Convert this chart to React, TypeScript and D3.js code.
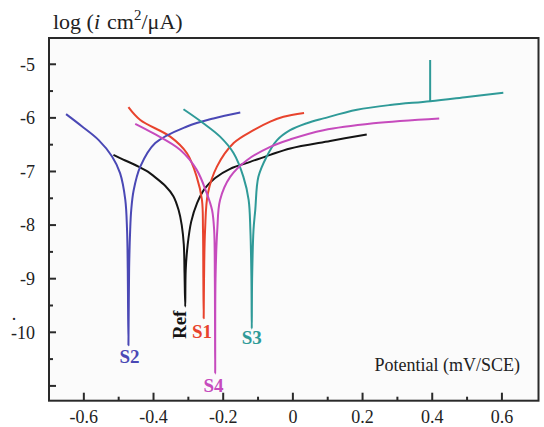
import * as d3 from "d3";

// Tafel curves: [potential (V/SCE), log i]
const refCurve: [number, number][] = [
  [-0.515, -6.69], [-0.496, -6.75], [-0.443, -6.91], [-0.42, -6.99], [-0.395, -7.11],
  [-0.366, -7.27], [-0.343, -7.46], [-0.328, -7.72], [-0.319, -8.0], [-0.313, -8.37],
  [-0.311, -8.9], [-0.309, -9.52], [-0.3076, -8.84], [-0.302, -8.37], [-0.292, -7.94],
  [-0.275, -7.59], [-0.252, -7.31], [-0.223, -7.12], [-0.18, -6.95], [-0.1225, -6.82],
  [-0.065, -6.69], [-0.0077, -6.57], [0.107, -6.43], [0.212, -6.31],
];
const s1Curve: [number, number][] = [
  [-0.472, -5.8], [-0.438, -6.04], [-0.352, -6.35], [-0.304, -6.66], [-0.276, -7.1],
  [-0.261, -7.53], [-0.258, -8.09], [-0.257, -9.0], [-0.256, -9.74], [-0.255, -9.0],
  [-0.252, -8.09], [-0.244, -7.41], [-0.218, -6.91], [-0.17, -6.47], [-0.113, -6.23],
  [-0.065, -6.07], [-0.027, -5.98], [0.032, -5.91],
];
const s2Curve: [number, number][] = [
  [-0.651, -5.93], [-0.605, -6.16], [-0.558, -6.41], [-0.519, -6.72], [-0.496, -7.03],
  [-0.481, -7.53], [-0.476, -8.09], [-0.474, -8.8], [-0.472, -10.24], [-0.47, -8.8],
  [-0.467, -8.09], [-0.464, -7.72], [-0.457, -7.35], [-0.438, -6.91], [-0.395, -6.47],
  [-0.304, -6.16], [-0.228, -6.01], [-0.151, -5.9],
];
const s3Curve: [number, number][] = [
  [-0.314, -5.84], [-0.257, -6.1], [-0.209, -6.35], [-0.17, -6.66], [-0.142, -7.1],
  [-0.127, -7.53], [-0.122, -8.09], [-0.119, -9.0], [-0.118, -9.93], [-0.117, -9.0],
  [-0.113, -8.09], [-0.108, -7.72], [-0.099, -7.1], [-0.075, -6.72], [-0.046, -6.42],
  [-0.008, -6.23], [0.04, -6.1], [0.088, -6.01], [0.184, -5.85], [0.279, -5.76],
  [0.394, -5.69], [0.5, -5.61], [0.604, -5.53],
];
// vertical spike on the S3 anodic branch
const s3Spike: [number, number][] = [[0.394, -5.69], [0.394, -4.92]];
const s4Curve: [number, number][] = [
  [-0.4525, -6.11], [-0.4, -6.29], [-0.323, -6.6], [-0.276, -6.97], [-0.247, -7.41],
  [-0.232, -7.72], [-0.226, -8.09], [-0.224, -9.0], [-0.223, -10.77], [-0.222, -9.0],
  [-0.217, -8.09], [-0.209, -7.53], [-0.18, -7.1], [-0.132, -6.79], [-0.065, -6.54],
  [-0.007, -6.4], [0.088, -6.23], [0.231, -6.1], [0.42, -6.01],
];

const seriesNames = ["Ref", "S1", "S2", "S3", "S4"];
const seriesData = [refCurve, s1Curve, s2Curve, s3Curve, s4Curve];
const seriesColors = ["#141414", "#e8432d", "#4a48b5", "#2f9a98", "#c64bbd"];
// label anchor in data units [E, log i]
const labelPos: [number, number][] = [
  [-0.325, -9.86], [-0.261, -9.99], [-0.469, -10.45], [-0.118, -10.1], [-0.228, -10.99],
];

const xMajor = [-0.6, -0.4, -0.2, 0, 0.2, 0.4, 0.6];
const xMinor = [-0.5, -0.3, -0.1, 0.1, 0.3, 0.5];
const yMajor = [-5, -6, -7, -8, -9, -10, -11];
const yMinor = [-5.5, -6.5, -7.5, -8.5, -9.5, -10.5];
const yLabels = [-5, -6, -7, -8, -9, -10];

const W = 544;
const H = 427;
const font = '"Liberation Serif", "DejaVu Serif", serif';

export default function App() {
  const x = d3.scaleLinear().domain([-0.7, 0.705]).range([49, 538.5]);
  const y = d3.scaleLinear().domain([-11.276, -4.51]).range([400.7, 38]);
  const line = d3
    .line<[number, number]>()
    .x((d) => x(d[0]))
    .y((d) => y(d[1]))
    .curve(d3.curveCatmullRom.alpha(0.5));
  const straight = d3
    .line<[number, number]>()
    .x((d) => x(d[0]))
    .y((d) => y(d[1]));

  const [x0, x1] = x.range();
  const [y0, y1] = y.range();

  return (
    <svg
      width={W}
      height={H}
      style={{ position: "absolute", left: 0, top: 0, background: "#fff", fontFamily: font }}
    >
      <rect x={x0} y={y1} width={x1 - x0} height={y0 - y1} fill="#fbfbfb" />

      {/* curves */}
      {seriesData.map((d, i) => (
        <path
          key={seriesNames[i]}
          d={line(d) ?? ""}
          fill="none"
          stroke={seriesColors[i]}
          strokeWidth={2}
          strokeLinejoin="round"
        />
      ))}
      <path d={straight(s3Spike) ?? ""} fill="none" stroke={seriesColors[3]} strokeWidth={2} />

      {/* frame */}
      <rect
        x={x0}
        y={y1}
        width={x1 - x0}
        height={y0 - y1}
        fill="none"
        stroke="#2a2a2a"
        strokeWidth={2}
      />

      {/* x ticks */}
      {xMajor.map((v) => (
        <line key={"xM" + v} x1={x(v)} x2={x(v)} y1={y0} y2={y0 - 8} stroke="#2a2a2a" strokeWidth={2} />
      ))}
      {xMinor.map((v) => (
        <line key={"xm" + v} x1={x(v)} x2={x(v)} y1={y0} y2={y0 - 4} stroke="#2a2a2a" strokeWidth={2} />
      ))}
      {xMajor.map((v) => (
        <text key={"xl" + v} x={x(v)} y={423} textAnchor="middle" fontSize={18} fill="#222">
          {v === 0 ? "0" : (v < 0 ? "-" : "") + Math.abs(v).toFixed(1)}
        </text>
      ))}

      {/* y ticks */}
      {yMajor.map((v) => (
        <line key={"yM" + v} x1={x0} x2={x0 + 7} y1={y(v)} y2={y(v)} stroke="#2a2a2a" strokeWidth={2} />
      ))}
      {yMinor.map((v) => (
        <line key={"ym" + v} x1={x0} x2={x0 + 4} y1={y(v)} y2={y(v)} stroke="#2a2a2a" strokeWidth={2} />
      ))}
      {yLabels.map((v) => (
        <text key={"yl" + v} x={35} y={y(v)} dy="0.35em" textAnchor="end" fontSize={18} fill="#222">
          {"-" + Math.abs(v)}
        </text>
      ))}
      <text x={14} y={320} textAnchor="middle" fontSize={18} fill="#222">.</text>

      {/* series labels */}
      {seriesNames.map((name, i) => {
        const [lx, ly] = labelPos[i];
        const px = x(lx);
        const py = y(ly);
        return (
          <text
            key={"lab" + name}
            x={px}
            y={py}
            dy="0.35em"
            textAnchor="middle"
            fontSize={19}
            fontWeight="bold"
            fill={seriesColors[i]}
            transform={name === "Ref" ? `rotate(-90, ${px}, ${py})` : undefined}
          >
            {name}
          </text>
        );
      })}

      {/* axis titles */}
      <text x={53} y={29} fontSize={22} fill="#222">
        log (<tspan fontStyle="italic">i</tspan>
        <tspan dx={7}>cm</tspan>
        <tspan fontSize={15} dy={-9}>2</tspan>
        <tspan dy={9}>/μA)</tspan>
      </text>
      <text x={520} y={371} textAnchor="end" fontSize={18} fill="#222">
        Potential (mV/SCE)
      </text>
    </svg>
  );
}
